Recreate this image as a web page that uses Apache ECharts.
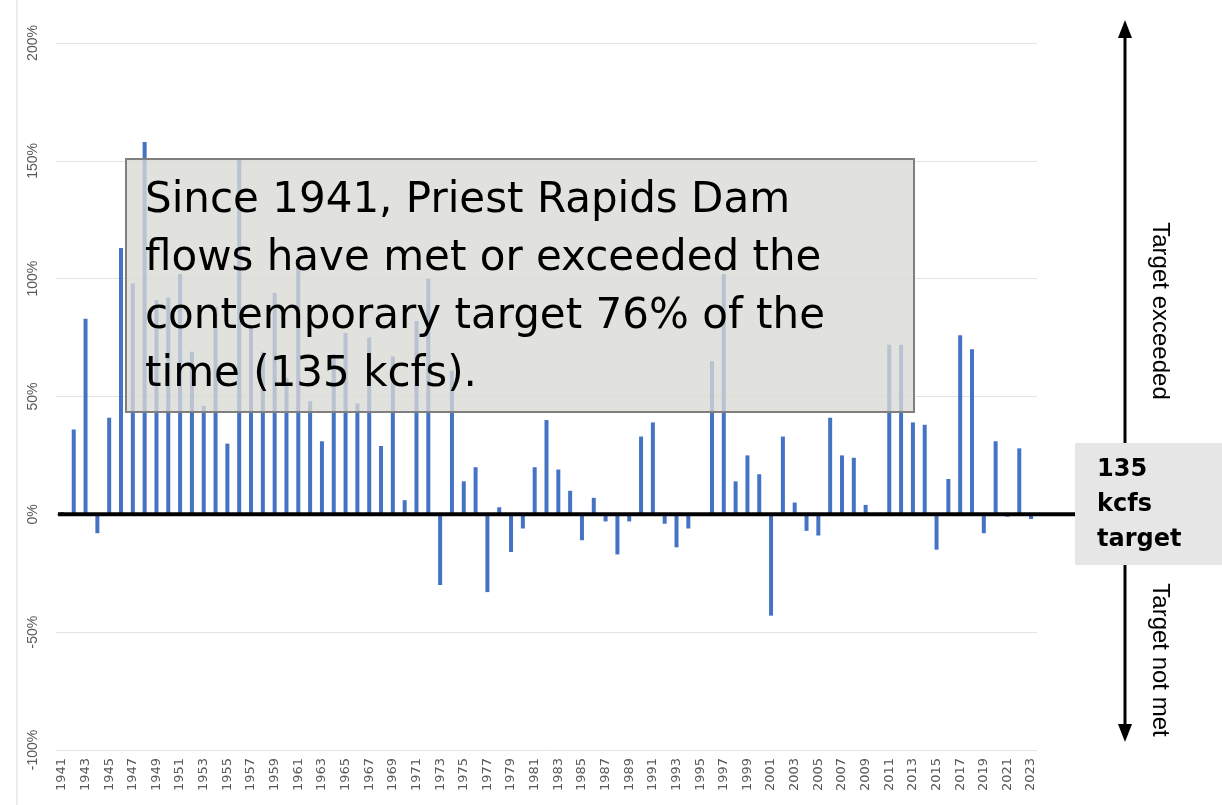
<!DOCTYPE html>
<html>
<head>
<meta charset="utf-8">
<script src="https://cdn.jsdelivr.net/npm/echarts@6/dist/echarts.min.js"></script>
<style>
  html, body { margin: 0; padding: 0; background: #fff; }
  #echart { width: 1222px; height: 805px; }
</style>
</head>
<body>
<div id="echart"></div>
<script>
// years 1941..2023
var years = [];
for (var y = 1941; y <= 2023; y++) years.push(String(y));

// percent above/below the 135 kcfs target
var pctAboveTarget = [
    1, 36, 83, -8, 41, 113, 98, 158, 91, 92,        // 1941-1950
    102, 69, 46, 88, 30, 151, 80, 69, 94, 58,       // 1951-1960
    105, 48, 31, 68, 77, 47, 75, 29, 67, 6,         // 1961-1970
    82, 100, -30, 61, 14, 20, -33, 3, -16, -6,      // 1971-1980
    20, 40, 19, 10, -11, 7, -3, -17, -3, 33,        // 1981-1990
    39, -4, -14, -6, 0, 65, 102, 14, 25, 17,        // 1991-2000
    -43, 33, 5, -7, -9, 41, 25, 24, 4, 0.5,         // 2001-2010
    72, 72, 39, 38, -15, 15, 76, 70, -8, 31,        // 2011-2020
    -1, 28, -2                                      // 2021-2023
];

var yTicks = { min: -100, max: 200, step: 50 };

var noteLines = [
    'Since 1941, Priest Rapids Dam',
    'flows have met or exceeded the',
    'contemporary target 76% of the',
    'time (135 kcfs).'
];
var targetLines = ['135', 'kcfs', 'target'];

var myChart = echarts.init(document.getElementById('echart'));
var narrowFont = "'Liberation Sans Narrow', 'Liberation Sans', sans-serif";

var option = {
    animation: false,
    grid: { left: 56, right: 185, top: 43, bottom: 55 },
    xAxis: {
        type: 'category',
        data: years,
        axisLine: { show: false },
        axisTick: { show: false },
        axisLabel: {
            interval: 1,
            rotate: 90,
            margin: 8,
            fontFamily: "'DejaVu Sans', sans-serif",
            fontSize: 13,
            color: '#595959'
        }
    },
    yAxis: {
        type: 'value',
        min: yTicks.min,
        max: yTicks.max,
        interval: yTicks.step,
        axisLine: { show: false },
        axisTick: { show: false },
        axisLabel: {
            rotate: 90,
            margin: 16,
            formatter: '{value}%',
            fontFamily: narrowFont,
            fontSize: 14,
            color: '#595959'
        },
        splitLine: { lineStyle: { color: '#e3e3e3', width: 1 } }
    },
    series: [{
        type: 'bar',
        data: pctAboveTarget,
        barWidth: 4,
        itemStyle: { color: '#4472C4' }
    }]
};
myChart.setOption(option);

// overlay: zero line, note box, target box and arrows
var y0 = myChart.convertToPixel({ yAxisIndex: 0 }, 0);
var xFirst = myChart.convertToPixel({ xAxisIndex: 0 }, years[0]);
var arrowX = 1125;
var boxTop = 443, boxBottom = 565;

var graphics = [
    // light slide edge on the left
    { type: 'line', shape: { x1: 17, y1: 0, x2: 17, y2: 805 },
      style: { stroke: '#d9d9d9', lineWidth: 1 }, z: 1 },
    // target box
    { type: 'rect', shape: { x: 1075, y: boxTop, width: 147, height: boxBottom - boxTop },
      style: { fill: '#e6e6e6' }, z: 50 },
    // zero line
    { type: 'line', shape: { x1: xFirst - 4, y1: y0, x2: 1075, y2: y0 },
      style: { stroke: '#000', lineWidth: 4 }, z: 60 },
    // note box (semi transparent, bars show through)
    { type: 'rect', shape: { x: 126, y: 159, width: 788, height: 253 },
      style: { fill: 'rgba(216,216,211,0.78)', stroke: '#7f7f7f', lineWidth: 2 }, z: 100 },
    // arrows
    { type: 'line', shape: { x1: arrowX, y1: 34, x2: arrowX, y2: boxTop },
      style: { stroke: '#000', lineWidth: 3 }, z: 60 },
    { type: 'polygon', shape: { points: [[arrowX, 20], [arrowX - 7, 38], [arrowX + 7, 38]] },
      style: { fill: '#000' }, z: 60 },
    { type: 'line', shape: { x1: arrowX, y1: boxBottom, x2: arrowX, y2: 728 },
      style: { stroke: '#000', lineWidth: 3 }, z: 60 },
    { type: 'polygon', shape: { points: [[arrowX, 742], [arrowX - 7, 724], [arrowX + 7, 724]] },
      style: { fill: '#000' }, z: 60 },
    // arrow labels
    { type: 'text', x: 1160, y: 311, rotation: -Math.PI / 2,
      style: { text: 'Target exceeded', fill: '#000', font: "24px " + narrowFont,
               align: 'center', verticalAlign: 'middle' }, z: 60 },
    { type: 'text', x: 1160, y: 660, rotation: -Math.PI / 2,
      style: { text: 'Target not met', fill: '#000', font: "24px " + narrowFont,
               align: 'center', verticalAlign: 'middle' }, z: 60 }
];

noteLines.forEach(function (line, i) {
    graphics.push({
        type: 'text', x: 145, y: 201 + i * 58,
        style: { text: line, fill: '#000', font: "42px 'DejaVu Sans', sans-serif",
                 verticalAlign: 'middle' },
        z: 101
    });
});

targetLines.forEach(function (line, i) {
    graphics.push({
        type: 'text', x: 1097, y: 470 + i * 35,
        style: { text: line, fill: '#000', font: "bold 24px 'DejaVu Sans', sans-serif",
                 verticalAlign: 'middle' },
        z: 61
    });
});

myChart.setOption({ graphic: { elements: graphics } });
</script>
</body>
</html>
